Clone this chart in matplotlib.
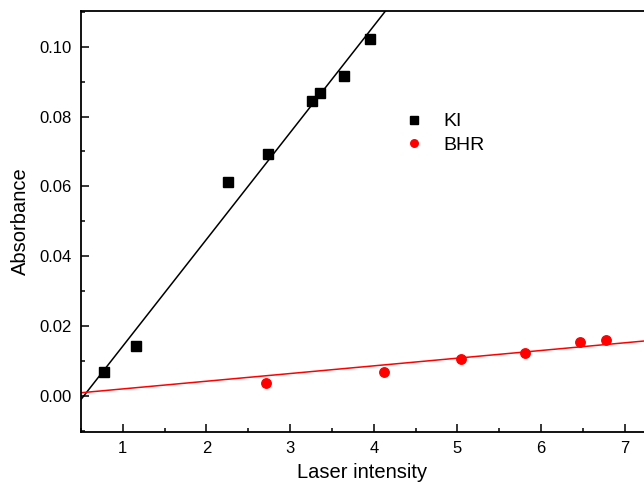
import numpy as np
import matplotlib
matplotlib.use("Agg")
import matplotlib.pyplot as plt
from matplotlib.ticker import MultipleLocator, FormatStrFormatter

# KI measurements
ki_x = [0.78, 1.16, 2.26, 2.74, 3.26, 3.36, 3.64, 3.95]
ki_y = [0.0068, 0.0144, 0.0613, 0.0694, 0.0844, 0.0866, 0.0916, 0.1021]

# BHR measurements
bhr_x = [2.71, 4.12, 5.04, 5.81, 6.47, 6.78]
bhr_y = [0.0036, 0.0069, 0.0106, 0.0124, 0.0155, 0.0161]

# linear fits (slope, intercept)
ki_fit = [0.03055, -0.01625]
bhr_fit = [0.0022, -0.00016]

plt.rcParams['font.family'] = ['Liberation Sans', 'DejaVu Sans']

fig = plt.figure(figsize=(6.44, 4.84), dpi=100)
ax = fig.add_axes([0.1258, 0.1074, 0.8742, 0.8698])

xs = np.array([0.5, 7.3])
ax.plot(xs, ki_fit[0] * xs + ki_fit[1], color='black', lw=1.1)
ax.plot(xs, bhr_fit[0] * xs + bhr_fit[1], color='red', lw=1.1)

ax.plot(ki_x, ki_y, 's', color='black', ms=6.5, ls='none', label='KI')
ax.plot(bhr_x, bhr_y, 'o', color='red', ms=6.8, ls='none', label='BHR')

ax.set_xlim(0.5, 7.23)
ax.set_ylim(-0.0103, 0.1102)

ax.xaxis.set_major_locator(MultipleLocator(1))
ax.xaxis.set_minor_locator(MultipleLocator(0.5))
ax.yaxis.set_major_locator(MultipleLocator(0.02))
ax.yaxis.set_minor_locator(MultipleLocator(0.01))
ax.yaxis.set_major_formatter(FormatStrFormatter('%.2f'))

ax.tick_params(which='both', direction='in', labelsize=12, width=1.1)
ax.tick_params(which='major', length=5.5, pad=6.5)
ax.tick_params(which='minor', length=3)

for side in ['left', 'bottom', 'top']:
    ax.spines[side].set_linewidth(1.3)
ax.spines['right'].set_visible(False)

ax.set_xlabel('Laser intensity', fontsize=14.5, labelpad=5)
ax.set_ylabel('Absorbance', fontsize=14.5, labelpad=7)

ax.legend(loc='upper left', bbox_to_anchor=(0.543, 0.80), frameon=False,
          fontsize=14, handlelength=1.0, handletextpad=1.0, labelspacing=0.3,
          markerscale=0.8)

fig.savefig('out.png', dpi=100)
